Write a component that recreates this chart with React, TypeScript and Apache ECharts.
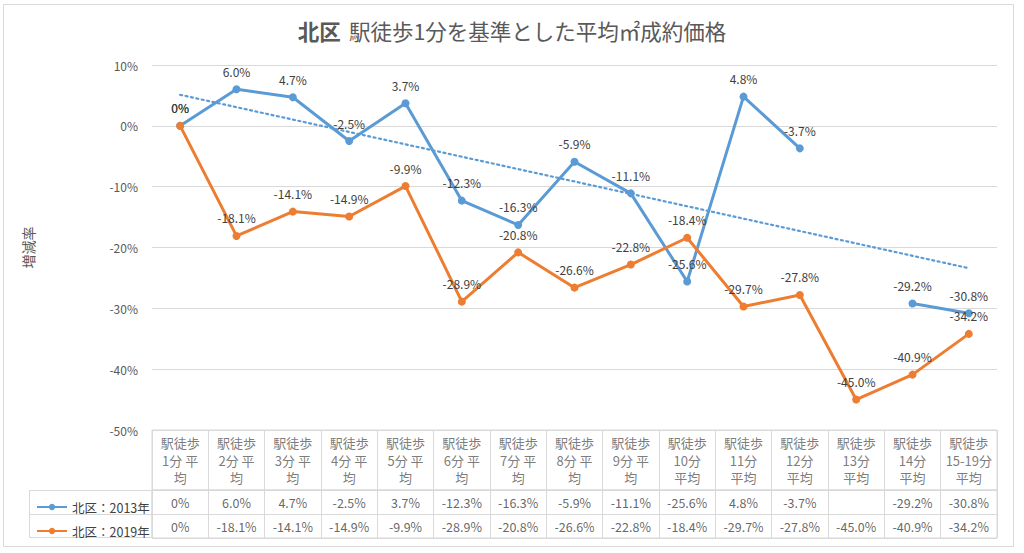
import React, { useEffect, useRef } from 'react';
import * as echarts from 'echarts';

const categories = [
  '駅徒歩1分平均', '駅徒歩2分平均', '駅徒歩3分平均', '駅徒歩4分平均', '駅徒歩5分平均',
  '駅徒歩6分平均', '駅徒歩7分平均', '駅徒歩8分平均', '駅徒歩9分平均', '駅徒歩10分平均',
  '駅徒歩11分平均', '駅徒歩12分平均', '駅徒歩13分平均', '駅徒歩14分平均', '駅徒歩15-19分平均',
];
const headerLabels = [
  '駅徒歩\n1分 平\n均', '駅徒歩\n2分 平\n均', '駅徒歩\n3分 平\n均', '駅徒歩\n4分 平\n均', '駅徒歩\n5分 平\n均',
  '駅徒歩\n6分 平\n均', '駅徒歩\n7分 平\n均', '駅徒歩\n8分 平\n均', '駅徒歩\n9分 平\n均', '駅徒歩\n10分\n平均',
  '駅徒歩\n11分\n平均', '駅徒歩\n12分\n平均', '駅徒歩\n13分\n平均', '駅徒歩\n14分\n平均', '駅徒歩\n15-19分\n平均',
];
const seriesNames = ['北区：2013年', '北区：2019年'];
const values2013: (number | null)[] = [0, 6.0, 4.7, -2.5, 3.7, -12.3, -16.3, -5.9, -11.1, -25.6, 4.8, -3.7, null, -29.2, -30.8];
const values2019: (number | null)[] = [0, -18.1, -14.1, -14.9, -9.9, -28.9, -20.8, -26.6, -22.8, -18.4, -29.7, -27.8, -45.0, -40.9, -34.2];
const trendEnds = [5.1, -23.4];
const yMin = -50;
const yMax = 10;
const yInterval = 10;

const BLUE = '#5B9BD5';
const ORANGE = '#ED7D31';
const GRID = '#d9d9d9';
const FONT = "'Noto Sans CJK JP', 'Noto Sans', sans-serif";

const pct = (v: number) => (v === 0 ? '0%' : v.toFixed(1) + '%');

export default function App() {
  const ref = useRef<HTMLDivElement>(null);
  useEffect(() => {
    if (!ref.current) return;
    const chart = echarts.init(ref.current, undefined, { renderer: 'svg' });
    const n = categories.length;
    const trendData = categories.map((_, i) => (i === 0 ? trendEnds[0] : i === n - 1 ? trendEnds[1] : null));
    const allRows = [values2013, values2019];
    const cellData: any[] = [];
    allRows.forEach((row, r) => {
      row.forEach((v, i) => {
        if (v !== null) cellData.push([i, r, v]);
      });
    });
    const lineLabel = {
      show: true,
      position: 'top',
      distance: 8,
      color: '#404040',
      fontSize: 12,
      fontFamily: FONT,
      formatter: (p: any) => pct(p.value),
    };
    const option: any = {
      animation: false,
      backgroundColor: '#ffffff',
      textStyle: { fontFamily: FONT },
      title: {
        text: '{b|北区}  {n|駅徒歩1分を基準とした平均㎡成約価格}',
        left: 'center',
        top: 15,
        textStyle: {
          rich: {
            b: { fontSize: 21.5, fontWeight: 'bold', color: '#595959', fontFamily: FONT },
            n: { fontSize: 21.5, fontWeight: 'normal', color: '#595959', fontFamily: FONT },
          },
        },
      },
      legend: {
        data: seriesNames,
        orient: 'vertical',
        left: 31,
        top: 495,
        itemWidth: 30,
        itemHeight: 8,
        itemGap: 10,
        textStyle: { fontSize: 12.5, color: '#404040', lineHeight: 14, fontFamily: FONT },
      },
      grid: [
        { left: 152, top: 65, width: 845, height: 365 },
        { left: 152, top: 430, width: 845, height: 60, show: true, borderColor: GRID, borderWidth: 1 },
        { left: 152, top: 490, width: 845, height: 48, show: true, borderColor: GRID, borderWidth: 1 },
      ],
      xAxis: [
        {
          type: 'category', gridIndex: 0, data: categories, boundaryGap: true,
          axisLine: { show: false }, axisTick: { show: false }, axisLabel: { show: false }, splitLine: { show: false },
        },
        {
          type: 'category', gridIndex: 1, data: categories, boundaryGap: true,
          axisLine: { show: false }, axisTick: { show: false }, axisLabel: { show: false },
          splitLine: { show: true, interval: 0, lineStyle: { color: GRID } },
        },
        {
          type: 'category', gridIndex: 2, data: categories, boundaryGap: true,
          axisLine: { show: false }, axisTick: { show: false }, axisLabel: { show: false },
          splitLine: { show: true, interval: 0, lineStyle: { color: GRID } },
        },
      ],
      yAxis: [
        {
          type: 'value', gridIndex: 0, min: yMin, max: yMax, interval: yInterval,
          name: '増減率', nameLocation: 'middle', nameGap: 117, nameRotate: 90,
          nameTextStyle: { fontSize: 14, color: '#595959', fontFamily: FONT },
          axisLine: { show: false }, axisTick: { show: false },
          axisLabel: { formatter: '{value}%', color: '#595959', fontSize: 12, margin: 14, fontFamily: FONT },
          splitLine: { show: true, lineStyle: { color: GRID } },
        },
        { type: 'value', gridIndex: 1, min: 0, max: 1, show: false },
        {
          type: 'category', gridIndex: 2, data: seriesNames, inverse: true, boundaryGap: true,
          axisLine: { show: false }, axisTick: { show: false }, axisLabel: { show: false },
          splitLine: { show: true, interval: 0, lineStyle: { color: GRID } },
        },
      ],
      series: [
        {
          name: seriesNames[0], type: 'line', xAxisIndex: 0, yAxisIndex: 0, data: values2013,
          connectNulls: false, symbol: 'circle', symbolSize: 8,
          lineStyle: { color: BLUE, width: 3 }, itemStyle: { color: BLUE }, label: lineLabel, z: 3,
        },
        {
          name: seriesNames[1], type: 'line', xAxisIndex: 0, yAxisIndex: 0, data: values2019,
          connectNulls: false, symbol: 'circle', symbolSize: 8,
          lineStyle: { color: ORANGE, width: 3 }, itemStyle: { color: ORANGE }, label: lineLabel, z: 4,
        },
        {
          name: 'trend', type: 'line', xAxisIndex: 0, yAxisIndex: 0, data: trendData,
          connectNulls: true, symbol: 'none', silent: true,
          lineStyle: { color: BLUE, width: 2.2, type: [2, 3.5], cap: 'round' }, z: 2,
        },
        {
          name: 'header', type: 'scatter', xAxisIndex: 1, yAxisIndex: 1,
          data: headerLabels.map((_, i) => [i, 0.5]),
          symbolSize: 1, itemStyle: { color: 'transparent' },
          label: {
            show: true, position: 'inside', color: '#595959', fontSize: 13, lineHeight: 17.5,
            fontFamily: FONT, align: 'center', verticalAlign: 'middle',
            formatter: (p: any) => headerLabels[p.dataIndex],
          },
        },
        {
          name: 'cells', type: 'scatter', xAxisIndex: 2, yAxisIndex: 2,
          data: cellData,
          symbolSize: 1, itemStyle: { color: 'transparent' },
          label: {
            show: true, position: 'inside', color: '#404040', fontSize: 12.5,
            fontFamily: FONT, align: 'center', verticalAlign: 'middle',
            formatter: (p: any) => pct(p.value[2]),
          },
        },
      ],
      graphic: [
        {
          type: 'rect', shape: { x: 3.5, y: 4.5, width: 1010, height: 542 },
          style: { fill: 'none', stroke: GRID, lineWidth: 1 }, silent: true, z: -10,
        },
        {
          type: 'rect', shape: { x: 29.5, y: 490.5, width: 122.5, height: 47 },
          style: { fill: 'none', stroke: GRID, lineWidth: 1 }, silent: true,
        },
        {
          type: 'line', shape: { x1: 29.5, y1: 514.5, x2: 152, y2: 514.5 },
          style: { stroke: GRID, lineWidth: 1 }, silent: true,
        },
      ],
    };
    chart.setOption(option);
    return () => chart.dispose();
  }, []);
  return <div ref={ref} style={{ position: 'fixed', left: 0, top: 0, width: 1024, height: 553, background: '#fff' }} />;
}
